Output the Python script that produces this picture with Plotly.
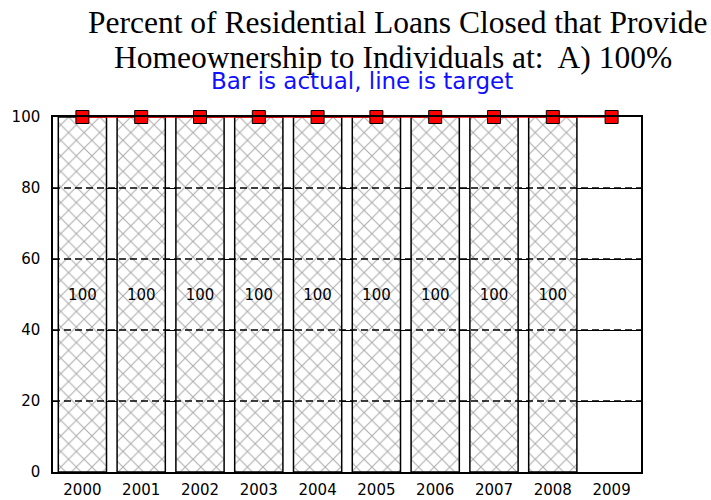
import plotly.graph_objects as go

years = ["2000", "2001", "2002", "2003", "2004", "2005", "2006", "2007", "2008", "2009"]
actual = [100, 100, 100, 100, 100, 100, 100, 100, 100, None]
target = [100, 100, 100, 100, 100, 100, 100, 100, 100, 100]
y_ticks = [0, 20, 40, 60, 80, 100]
title_line1 = "Percent of Residential Loans Closed that Provide"
title_line2 = "Homeownership to Individuals at:\u00a0 A) 100%"
subtitle = "Bar is actual, line is target"

L, R, T, B = 53, 70, 117, 28
W, H = 711, 500
ph = H - T - B

def ypaper(px):
    return (H - B - px) / ph

def xpaper(px):
    return (px - L) / (W - L - R)

SANS = "DejaVu Sans, Liberation Sans, Arial"
SERIF = "Liberation Serif, Times New Roman"

fig = go.Figure()
fig.add_trace(go.Bar(
    x=years, y=actual,
    text=[("%d" % v) if v is not None else "" for v in actual],
    textposition="inside", insidetextanchor="middle", textangle=0,
    textfont=dict(family=SANS, size=15, color="black"),
    marker=dict(color="white", line=dict(color="black", width=1.5),
                pattern=dict(shape="x", fgcolor="#adadad", bgcolor="white",
                             size=11, solidity=0.18, fillmode="replace")),
    showlegend=False, hoverinfo="skip",
))
fig.add_trace(go.Scatter(
    x=years, y=target, mode="lines+markers",
    line=dict(color="red", width=1.5),
    marker=dict(symbol="square", size=13, color="red", line=dict(color="black", width=1)),
    cliponaxis=False, showlegend=False,
))

for v in y_ticks[1:-1]:
    fig.add_shape(type="line", xref="paper", yref="y", x0=0, x1=1, y0=v, y1=v,
                  line=dict(color="black", width=1.3, dash="7px,4px"), layer="above")

fig.update_layout(
    width=W, height=H,
    margin=dict(l=L, r=R, t=T, b=B, autoexpand=False),
    paper_bgcolor="white", plot_bgcolor="white",
    bargap=0.18,
    font=dict(family=SANS, size=15, color="black"),
    xaxis=dict(type="category", range=[-0.5, 9.5], showgrid=False,
               showline=True, linecolor="black", linewidth=1.5, mirror=True,
               ticks="outside", ticklen=3, tickcolor="rgba(0,0,0,0)",
               tickfont=dict(family=SANS, size=15), zeroline=False, automargin=False),
    yaxis=dict(range=[0, 100], tickvals=y_ticks, showgrid=True,
               gridcolor="black", gridwidth=1.3,
               showline=True, linecolor="black", linewidth=1.5, mirror=True,
               ticks="outside", ticklen=8, tickcolor="rgba(0,0,0,0)",
               tickfont=dict(family=SANS, size=15), zeroline=False, automargin=False),
    annotations=[
        dict(text=title_line1, xref="paper", yref="paper", x=xpaper(397), y=ypaper(23),
             xanchor="center", yanchor="middle", showarrow=False,
             font=dict(family=SERIF, size=31.5, color="black")),
        dict(text=title_line2, xref="paper", yref="paper", x=xpaper(393), y=ypaper(57.5),
             xanchor="center", yanchor="middle", showarrow=False,
             font=dict(family=SERIF, size=31.5, color="black")),
        dict(text=subtitle, xref="paper", yref="paper", x=xpaper(362), y=ypaper(81.5),
             xanchor="center", yanchor="middle", showarrow=False,
             font=dict(family=SANS, size=23, color="#1010ff")),
    ],
)

fig.write_html("out.html", config={"displayModeBar": False},
               post_script="document.body.style.margin='0';document.body.style.overflow='hidden';")
